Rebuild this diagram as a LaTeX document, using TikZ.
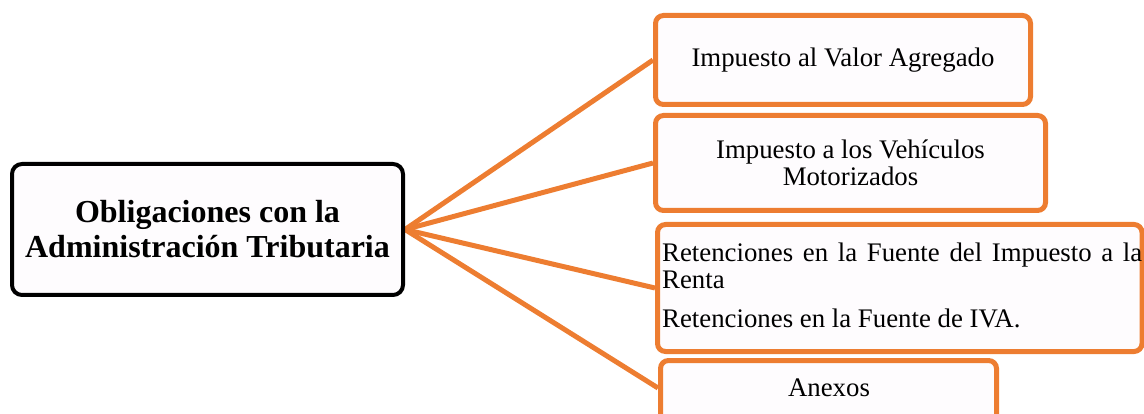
\documentclass[tikz,border=0pt]{standalone}
\usepackage{fontspec}
\setmainfont{Liberation Serif}
\usetikzlibrary{backgrounds,calc}
\definecolor{accent}{HTML}{ED7D31}
\definecolor{paper}{RGB}{254,252,254}
\tikzset{
  rootbox/.style={draw=black, line width=4pt, rounded corners=10pt, fill=paper,
    inner sep=0pt, align=center, font=\fontsize{32}{35}\selectfont\bfseries},
  leafbox/.style={draw=accent, line width=5pt, rounded corners=8pt, fill=paper,
    inner sep=0pt, align=center, font=\fontsize{26.8}{27}\selectfont},
  leaftext/.style={inner sep=0pt, anchor=base west, font=\fontsize{26.8}{27}\selectfont},
  link/.style={draw=accent, line width=5pt}
}
\begin{document}
\begin{tikzpicture}[x=1pt,y=-1pt]
\useasboundingbox (0,0) rectangle (1144,414);

% central topic
\node[rootbox, minimum width=391pt, minimum height=131pt] (root) at (207.5,229.5)
  {Obligaciones con la\\Administración Tributaria};

% branches
\node[leafbox, minimum width=375pt, minimum height=89pt] (iva) at (843,60)
  {Impuesto al Valor Agregado};
\node[leafbox, minimum width=390pt, minimum height=95pt] (veh) at (850.5,163)
  {Impuesto a los Vehículos\\Motorizados};
\node[leafbox, minimum width=484.5pt, minimum height=127pt] (ret) at (899.75,288) {};
\node[leafbox, minimum width=336pt, minimum height=70pt, text depth=0pt] (anx) at (828.5,395.5) {};
\node[inner sep=0pt, anchor=base, font=\fontsize{26.8}{27}\selectfont] (anxtext) at (829,396) {Anexos};

% withholding box contents
\node[leaftext] (ret1) at (662,261.7)
  {\makebox[480pt][s]{Retenciones en la Fuente del Impuesto a la}};
\node[leaftext] (ret2) at (662,289) {Renta};
\node[leaftext] (ret3) at (662,327) {Retenciones en la Fuente de IVA.};

% the point where the last branch meets its box
\coordinate (anxin) at ($(anx.north west)!0.4!(anx.south west)$);

% connectors, kept behind the boxes
\begin{scope}[on background layer]
\draw[link] (root.east) -- (iva.west);
\draw[link] (root.east) -- (veh.west);
\draw[link] (root.east) -- (ret.west);
\draw[link] (root.east) -- (anxin);
\end{scope}
\end{tikzpicture}
\end{document}
